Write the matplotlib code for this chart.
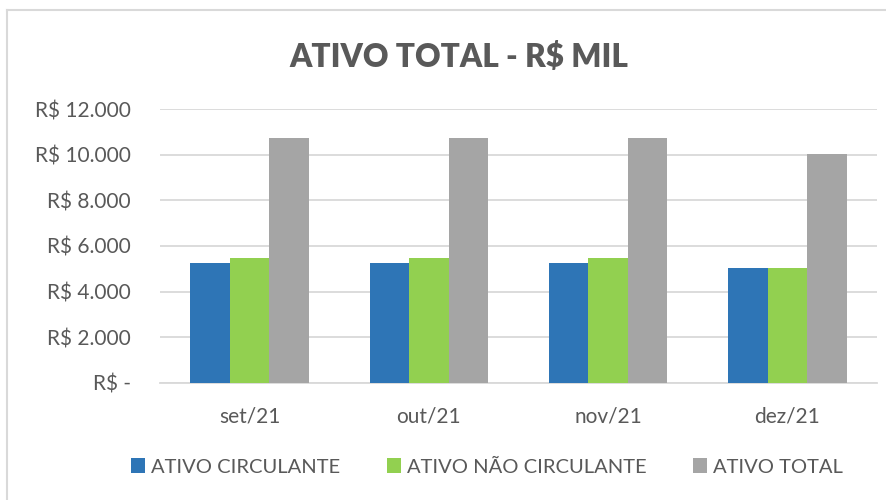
import matplotlib
matplotlib.use("Agg")
import matplotlib.pyplot as plt
import numpy as np
from matplotlib.lines import Line2D

categories = ["set/21", "out/21", "nov/21", "dez/21"]
series_names = ["ATIVO CIRCULANTE", "ATIVO NÃO CIRCULANTE", "ATIVO TOTAL"]
ativo_circulante = [5230, 5230, 5230, 5030]
ativo_nao_circulante = [5480, 5480, 5480, 5020]
ativo_total = [10710, 10710, 10710, 10040]
yticks = [0, 2000, 4000, 6000, 8000, 10000, 12000]
ytick_labels = ["R$ -", "R$ 2.000", "R$ 4.000", "R$ 6.000", "R$ 8.000", "R$ 10.000", "R$ 12.000"]
colors = ["#2E75B6", "#92D050", "#A5A5A5"]

plt.rcParams['font.family'] = ['Lato', 'DejaVu Sans']
W, H = 886, 500
fig = plt.figure(figsize=(W / 100, H / 100), dpi=100)
fig.patch.set_facecolor("white")

# outer chart border (top and left)
fig.add_artist(Line2D([7 / W, 7 / W], [0, 1 - 10 / H], transform=fig.transFigure, color="#D9D9D9", lw=1.5))
fig.add_artist(Line2D([7 / W, 1], [1 - 10 / H, 1 - 10 / H], transform=fig.transFigure, color="#D9D9D9", lw=1.5))

left, right = 160 / W, 877 / W
top_px, bot_px = 109, 382.8
ax = fig.add_axes([left, 1 - bot_px / H, right - left, (bot_px - top_px) / H])

x = np.arange(len(categories))
w = 0.22
data = [ativo_circulante, ativo_nao_circulante, ativo_total]
for i, (vals, c, name) in enumerate(zip(data, colors, series_names)):
    ax.bar(x + (i - 1) * w, vals, width=w, color=c, label=name, zorder=3, linewidth=0)

ax.set_xlim(-0.5, len(categories) - 0.5)
ax.set_ylim(0, 12000)
ax.set_yticks(yticks)
ax.set_yticklabels(ytick_labels)
ax.set_xticks(x)
ax.set_xticklabels(categories)
ax.grid(axis="y", color="#D9D9D9", lw=1.3, zorder=0)
for s in ["top", "right", "left"]:
    ax.spines[s].set_visible(False)
ax.spines["bottom"].set_color("#D9D9D9")
ax.spines["bottom"].set_linewidth(1.3)
ax.tick_params(axis="y", length=0, pad=21, labelsize=15, labelcolor="#595959")
ax.tick_params(axis="x", length=0, pad=17, labelsize=15, labelcolor="#595959")

fig.text(459 / W, 1 - 57 / H, "ATIVO TOTAL - R$ MIL", ha="center", va="center",
         fontsize=22.7, fontweight="heavy", color="#595959")

handles, labels = ax.get_legend_handles_labels()
leg = fig.legend(handles, labels, loc="center", bbox_to_anchor=(487 / W, 1 - 467 / H), ncol=3,
                 frameon=False, fontsize=14.5, handlelength=0.7, handleheight=0.7,
                 handletextpad=0.3, columnspacing=2.3, labelcolor="#595959")

fig.savefig("out.png", dpi=100, facecolor="white")
